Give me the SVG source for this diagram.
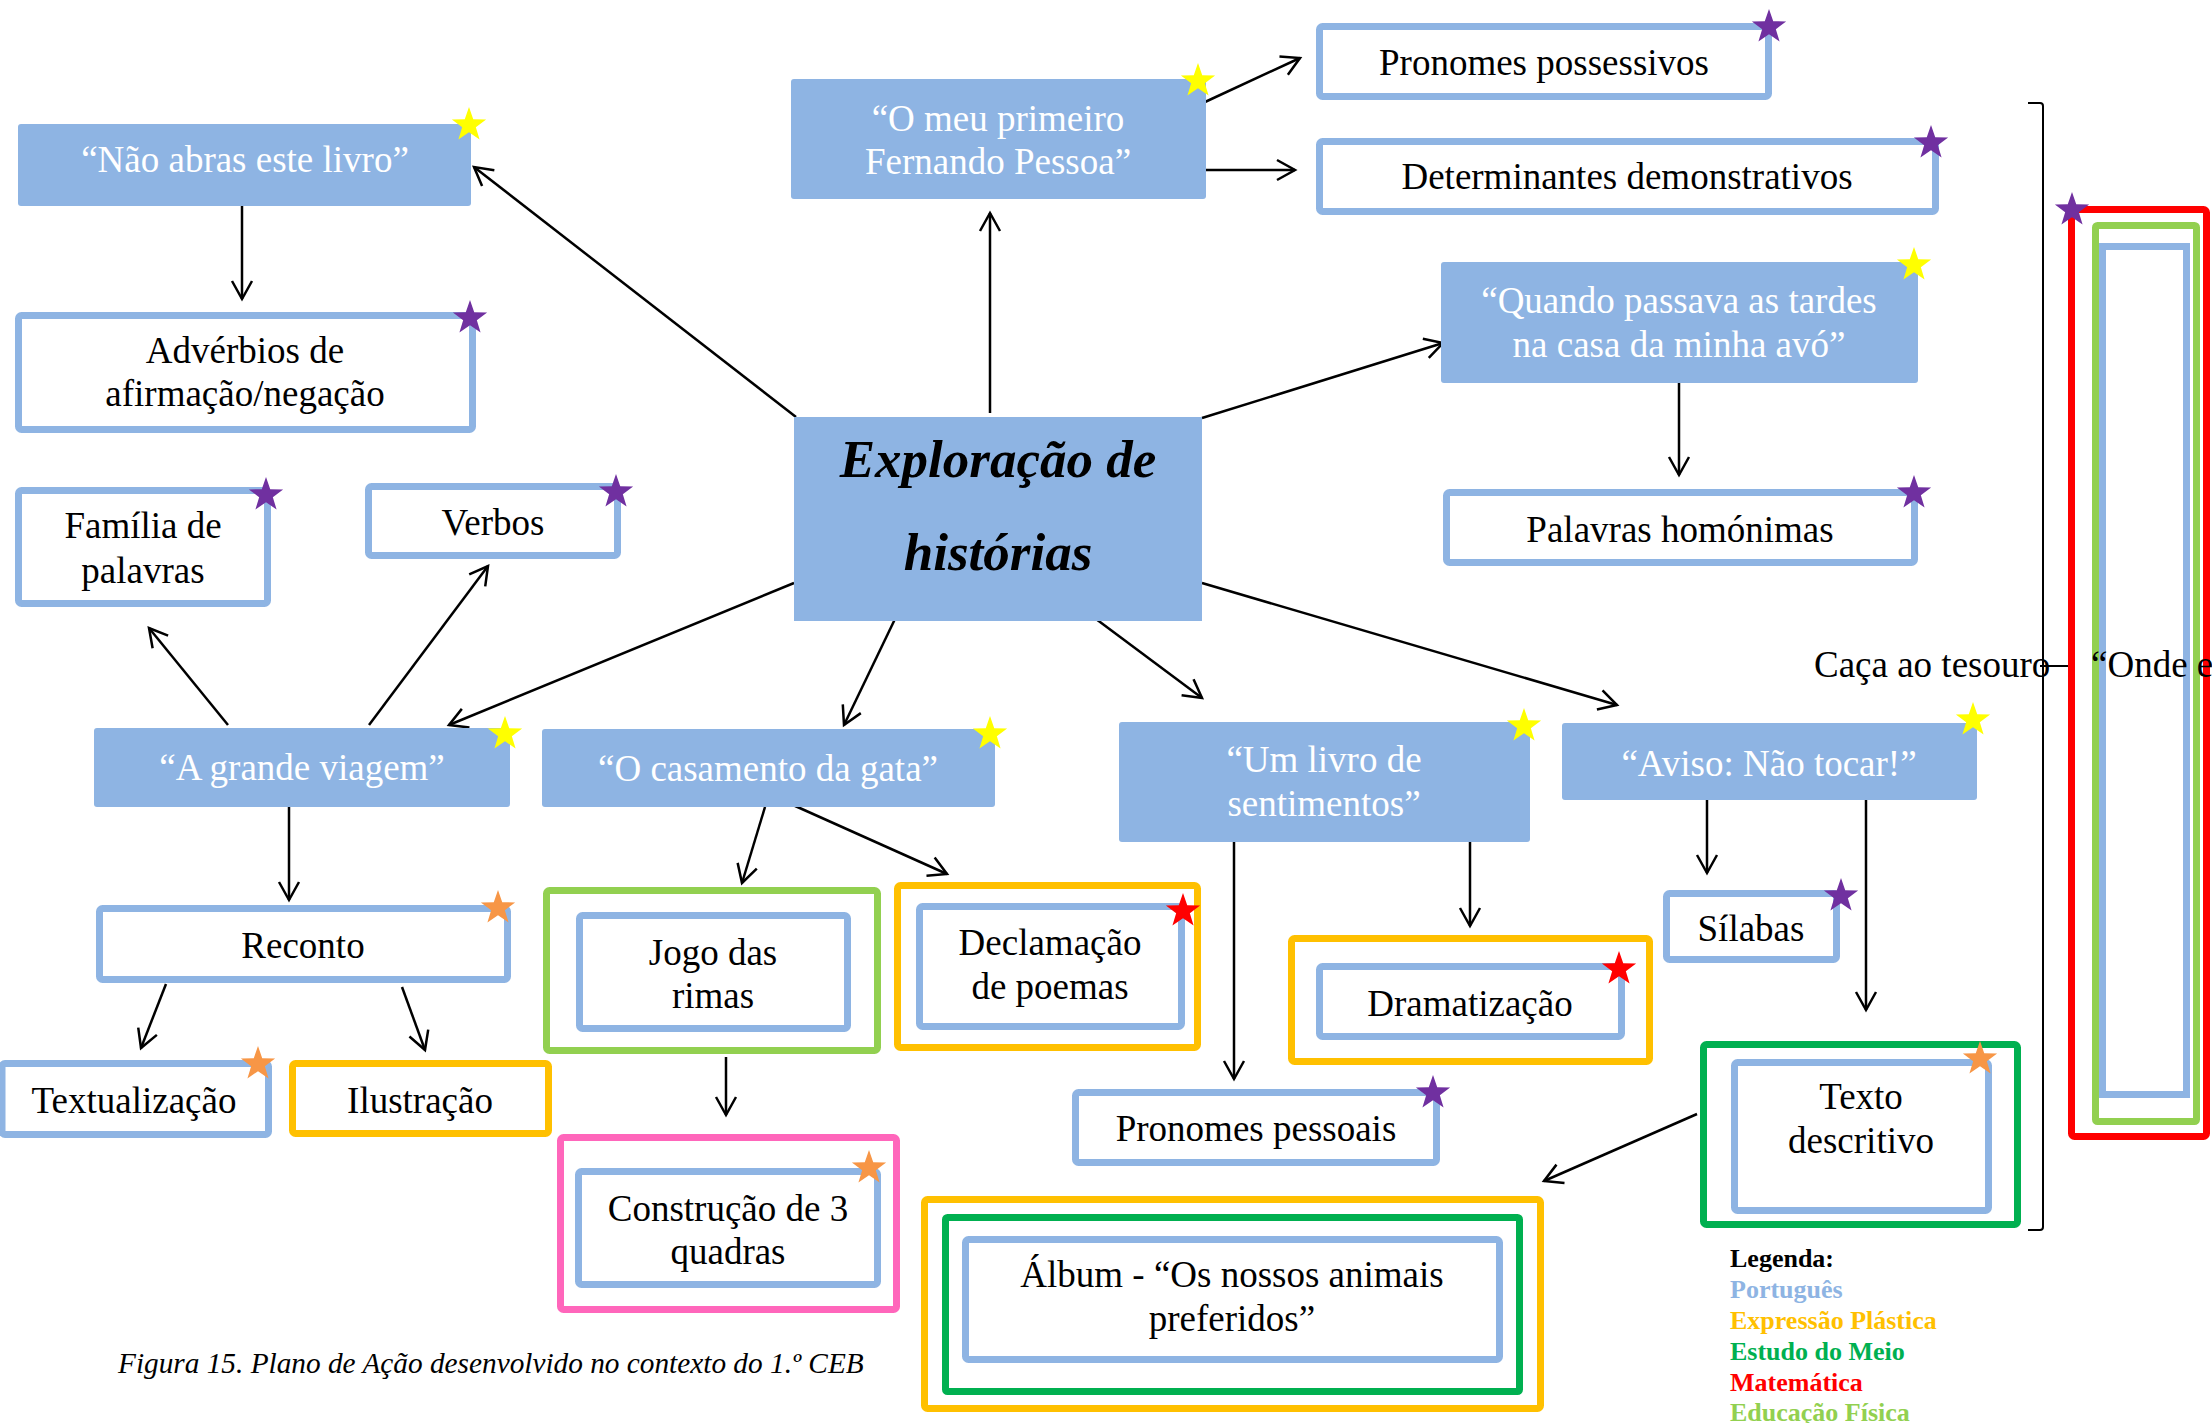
<svg xmlns="http://www.w3.org/2000/svg" width="2212" height="1423" viewBox="0 0 2212 1423">
<style>
text{font-family:"Liberation Serif","Times New Roman",serif;font-size:37px;text-anchor:middle}
.w{fill:#fff}
.k{fill:#000}
.fill{fill:#8EB4E3}
.bl{fill:#fff;stroke:#8EB4E3;stroke-width:7}
.or{fill:#fff;stroke:#FFC000;stroke-width:7}
.gr{fill:#fff;stroke:#00B050;stroke-width:7}
.lg{fill:#fff;stroke:#92D050;stroke-width:7}
.rd{fill:#fff;stroke:#FF0000;stroke-width:7}
.pk{fill:#fff;stroke:#FF66BB;stroke-width:7}
.sy{fill:#FFFF00}.sp{fill:#7030A0}.so{fill:#F79646}.sr{fill:#FF0000}
.c line,.c path{stroke:#000;stroke-width:2.5;fill:none}
.title{font-weight:bold;font-style:italic;font-size:53px}
.leg{font-weight:bold;font-size:26px;text-anchor:start}
</style>
<defs>
<marker id="ah" markerUnits="userSpaceOnUse" markerWidth="24" markerHeight="24" viewBox="0 0 24 24" refX="21" refY="12" orient="auto">
<path d="M3,2 L21,12 L3,22" fill="none" stroke="#000" stroke-width="2.5"/>
</marker>
<path id="star" d="M0,-18 L4.23,-5.83 L17.12,-5.56 L6.85,2.23 L10.58,14.56 L0,7.2 L-10.58,14.56 L-6.85,2.23 L-17.12,-5.56 L-4.23,-5.83 Z"/>
</defs>
<rect width="2212" height="1423" fill="#fff"/>

<g id="connectors" class="c">
<line x1="796" y1="417" x2="474" y2="167" marker-end="url(#ah)"/>
<line x1="242" y1="205" x2="242" y2="299" marker-end="url(#ah)"/>
<line x1="990" y1="413" x2="990" y2="213" marker-end="url(#ah)"/>
<line x1="1205" y1="102" x2="1300" y2="58" marker-end="url(#ah)"/>
<line x1="1203" y1="170" x2="1295" y2="170" marker-end="url(#ah)"/>
<line x1="1202" y1="418" x2="1443" y2="343" marker-end="url(#ah)"/>
<line x1="1679" y1="383" x2="1679" y2="475" marker-end="url(#ah)"/>
<line x1="794" y1="583" x2="449" y2="725" marker-end="url(#ah)"/>
<line x1="228" y1="725" x2="149" y2="628" marker-end="url(#ah)"/>
<line x1="369" y1="725" x2="488" y2="566" marker-end="url(#ah)"/>
<line x1="289" y1="807" x2="289" y2="900" marker-end="url(#ah)"/>
<line x1="166" y1="984" x2="141" y2="1048" marker-end="url(#ah)"/>
<line x1="402" y1="987" x2="425" y2="1050" marker-end="url(#ah)"/>
<line x1="895" y1="619" x2="844" y2="725" marker-end="url(#ah)"/>
<line x1="765" y1="807" x2="742" y2="883" marker-end="url(#ah)"/>
<line x1="793" y1="805" x2="947" y2="874" marker-end="url(#ah)"/>
<line x1="726" y1="1057" x2="726" y2="1115" marker-end="url(#ah)"/>
<line x1="1092" y1="616" x2="1202" y2="698" marker-end="url(#ah)"/>
<line x1="1234" y1="842" x2="1234" y2="1079" marker-end="url(#ah)"/>
<line x1="1470" y1="841" x2="1470" y2="926" marker-end="url(#ah)"/>
<line x1="1202" y1="583" x2="1617" y2="705" marker-end="url(#ah)"/>
<line x1="1707" y1="800" x2="1707" y2="873" marker-end="url(#ah)"/>
<line x1="1866" y1="800" x2="1866" y2="1010" marker-end="url(#ah)"/>
<line x1="1697" y1="1114" x2="1544" y2="1181" marker-end="url(#ah)"/>
<path d="M2028,103 L2040,103 Q2043,103 2043,106 L2043,1227 Q2043,1230 2040,1230 L2028,1230" style="stroke-width:2"/>
<line x1="2040" y1="666" x2="2086" y2="666" style="stroke-width:2"/>
</g>

<g id="n-nao-abras"><rect class="fill" x="18" y="124" width="453" height="82" rx="3"/><text class="w" x="245" y="172">“Não abras este livro”</text><use href="#star" class="sy" x="469" y="125"/></g>
<g id="n-adverbios"><rect class="bl" x="18.5" y="315.5" width="454" height="114" rx="3"/><text class="k" x="245" y="363">Advérbios de</text><text class="k" x="245" y="406">afirmação/negação</text><use href="#star" class="sp" x="470" y="318"/></g>
<g id="n-o-meu"><rect class="fill" x="791" y="79" width="415" height="120" rx="3"/><text class="w" x="998" y="131">“O meu primeiro</text><text class="w" x="998" y="174">Fernando Pessoa”</text><use href="#star" class="sy" x="1198" y="81"/></g>
<g id="n-pron-poss"><rect class="bl" x="1319.5" y="26.5" width="449" height="70" rx="3"/><text class="k" x="1544" y="75">Pronomes possessivos</text><use href="#star" class="sp" x="1769" y="27"/></g>
<g id="n-determinantes"><rect class="bl" x="1319.5" y="141.5" width="616" height="70" rx="3"/><text class="k" x="1627" y="189">Determinantes demonstrativos</text><use href="#star" class="sp" x="1931" y="143"/></g>
<g id="n-quando"><rect class="fill" x="1441" y="262" width="477" height="121" rx="3"/><text class="w" x="1679" y="313">“Quando passava as tardes</text><text class="w" x="1679" y="357">na casa da minha avó”</text><use href="#star" class="sy" x="1914" y="265"/></g>
<g id="n-palavras"><rect class="bl" x="1446.5" y="492.5" width="468" height="70" rx="3"/><text class="k" x="1680" y="542">Palavras homónimas</text><use href="#star" class="sp" x="1914" y="493"/></g>
<g id="n-centro"><rect class="fill" x="794" y="417" width="408" height="204"/><text class="k title" x="998" y="477">Exploração de</text><text class="k title" x="998" y="570">histórias</text></g>
<g id="n-familia"><rect class="bl" x="18.5" y="490.5" width="249" height="113" rx="3"/><text class="k" x="143" y="538">Família de</text><text class="k" x="143" y="583">palavras</text><use href="#star" class="sp" x="266" y="495"/></g>
<g id="n-verbos"><rect class="bl" x="368.5" y="486.5" width="249" height="69" rx="3"/><text class="k" x="493" y="535">Verbos</text><use href="#star" class="sp" x="616" y="492"/></g>
<g id="n-grande-viagem"><rect class="fill" x="94" y="728" width="416" height="79" rx="3"/><text class="w" x="302" y="780">“A grande viagem”</text><use href="#star" class="sy" x="505" y="734"/></g>
<g id="n-casamento"><rect class="fill" x="542" y="729" width="453" height="78" rx="3"/><text class="w" x="768" y="781">“O casamento da gata”</text><use href="#star" class="sy" x="990" y="734"/></g>
<g id="n-um-livro"><rect class="fill" x="1119" y="722" width="411" height="120" rx="3"/><text class="w" x="1324" y="772">“Um livro de</text><text class="w" x="1324" y="816">sentimentos”</text><use href="#star" class="sy" x="1524" y="726"/></g>
<g id="n-aviso"><rect class="fill" x="1562" y="723" width="415" height="77" rx="3"/><text class="w" x="1769" y="776">“Aviso: Não tocar!”</text><use href="#star" class="sy" x="1973" y="720"/></g>
<g id="n-reconto"><rect class="bl" x="99.5" y="908.5" width="408" height="71" rx="3"/><text class="k" x="303" y="958">Reconto</text><use href="#star" class="so" x="498" y="908"/></g>
<g id="n-textualizacao"><rect class="bl" x="2" y="1063.5" width="266.5" height="71" rx="3"/><text class="k" x="134" y="1113">Textualização</text><use href="#star" class="so" x="258" y="1064"/></g>
<g id="n-ilustracao"><rect class="or" x="292.5" y="1063.5" width="256" height="70" rx="3"/><text class="k" x="420" y="1113">Ilustração</text></g>
<g id="n-jogo"><rect class="lg" x="546.5" y="890.5" width="331" height="160" rx="3"/><rect class="bl" x="579.5" y="915.5" width="268" height="113" rx="3"/><text class="k" x="713" y="965">Jogo das</text><text class="k" x="713" y="1008">rimas</text></g>
<g id="n-declamacao"><rect class="or" x="897.5" y="885.5" width="300" height="162" rx="3"/><rect class="bl" x="919.5" y="906.5" width="262" height="120" rx="3"/><text class="k" x="1050" y="955">Declamação</text><text class="k" x="1050" y="999">de poemas</text><use href="#star" class="sr" x="1183" y="911"/></g>
<g id="n-dramatizacao"><rect class="or" x="1291.5" y="938.5" width="358" height="123" rx="3"/><rect class="bl" x="1319.5" y="966.5" width="302" height="70" rx="3"/><text class="k" x="1470" y="1016">Dramatização</text><use href="#star" class="sr" x="1619" y="969"/></g>
<g id="n-silabas"><rect class="bl" x="1666.5" y="893.5" width="170" height="66" rx="3"/><text class="k" x="1751" y="941">Sílabas</text><use href="#star" class="sp" x="1841" y="896"/></g>
<g id="n-pron-pessoais"><rect class="bl" x="1075.5" y="1092.5" width="361" height="70" rx="3"/><text class="k" x="1256" y="1141">Pronomes pessoais</text><use href="#star" class="sp" x="1433" y="1093"/></g>
<g id="n-texto"><rect class="gr" x="1703.5" y="1044.5" width="314" height="180" rx="3"/><rect class="bl" x="1734.5" y="1062.5" width="254" height="148" rx="3"/><text class="k" x="1861" y="1109">Texto</text><text class="k" x="1861" y="1153">descritivo</text><use href="#star" class="so" x="1980" y="1059"/></g>
<g id="n-construcao"><rect class="pk" x="560.5" y="1137.5" width="336" height="172" rx="3"/><rect class="bl" x="578.5" y="1171.5" width="299" height="113" rx="3"/><text class="k" x="728" y="1221">Construção de 3</text><text class="k" x="728" y="1264">quadras</text><use href="#star" class="so" x="869" y="1168"/></g>
<g id="n-album"><rect class="or" x="924.5" y="1199.5" width="616" height="209" rx="3"/><rect class="gr" x="945.5" y="1217.5" width="574" height="174" rx="2"/><rect class="bl" x="965.5" y="1239.5" width="534" height="120" rx="3"/><text class="k" x="1232" y="1287">Álbum - “Os nossos animais</text><text class="k" x="1232" y="1331">preferidos”</text></g>
<g id="n-onde"><rect class="rd" x="2071.5" y="209.5" width="135" height="927" rx="3"/><rect class="lg" x="2095.5" y="225.5" width="101" height="896" rx="2"/><rect class="bl" x="2102.5" y="246.5" width="84" height="848"/><use href="#star" class="sp" x="2072" y="210"/></g>
<g id="t-caca"><text class="k" x="1814" y="677" style="text-anchor:start">Caça ao tesouro</text><text class="k" x="2091" y="677" style="text-anchor:start">“Onde e</text></g>

<g id="legenda">
<text class="leg" x="1730" y="1267" fill="#000">Legenda:</text>
<text class="leg" x="1730" y="1298" fill="#8EB4E3">Português</text>
<text class="leg" x="1730" y="1329" fill="#FFC000">Expressão Plástica</text>
<text class="leg" x="1730" y="1360" fill="#00B050">Estudo do Meio</text>
<text class="leg" x="1730" y="1391" fill="#FF0000">Matemática</text>
<text class="leg" x="1730" y="1421" fill="#92D050">Educação Física</text>
</g>
<text id="caption" x="118" y="1373" style="text-anchor:start;font-style:italic;font-size:29.3px" fill="#000">Figura 15. Plano de Ação desenvolvido no contexto do 1.º CEB</text>
</svg>
